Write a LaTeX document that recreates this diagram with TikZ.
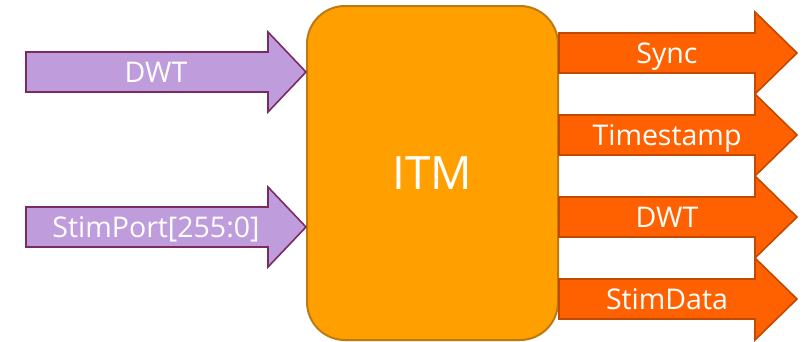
\documentclass[tikz,border=0pt]{standalone}
\usepackage{fontspec}
\setmainfont{Open Sans}
\usetikzlibrary{calc}
\definecolor{itmfill}{HTML}{FFA000}
\definecolor{itmline}{HTML}{BD7A12}
\definecolor{infill}{HTML}{BF9CDB}
\definecolor{inline}{HTML}{7A2B62}
\definecolor{outfill}{HTML}{FF6100}
\definecolor{outline}{HTML}{C24A00}
\tikzset{
  blockbox/.style={draw=itmline, fill=itmfill, line width=2pt, rounded corners=38pt,
    minimum width=251pt, minimum height=334pt, text=white, font=\fontsize{46}{52}\selectfont},
  inarrow/.style={draw=inline, fill=infill, line width=1.6pt, line join=miter},
  outarrow/.style={draw=outline, fill=outfill, line width=1.6pt, line join=miter},
  arrowlabel/.style={text=white, font=\fontsize{28.5}{32}\selectfont, inner sep=0pt, anchor=base}
}
\begin{document}
\begin{tikzpicture}[x=1pt,y=-1pt]
\useasboundingbox (0,0) rectangle (810,341);
% central block
\node[blockbox] (itm) at (432.5,173) {ITM};
% incoming block arrows (tip touches the block's left side)
\foreach \cy/\nm/\txt in {72/dwtin/DWT, 227/stimin/StimPort[255:0]}{
  \coordinate (\nm) at (itm.west |- 0,\cy);
  \path[inarrow] (26,\cy-20) -- (268,\cy-20) -- (268,\cy-40) -- (\nm)
    -- (268,\cy+40) -- (268,\cy+20) -- (26,\cy+20) -- cycle;
  \node[arrowlabel] (\nm-label) at (156,\cy+10) {\txt};
}
% outgoing block arrows (start at the block's right side)
\foreach \cy/\nm/\txt in {53/syncout/Sync, 135/tsout/Timestamp, 217/dwtout/DWT, 299/stimout/StimData}{
  \coordinate (\nm) at (itm.east |- 0,\cy);
  \path[outarrow] ($(\nm)+(0,-20)$) -- (755,\cy-20) -- (755,\cy-41) -- (797,\cy)
    -- (755,\cy+41) -- (755,\cy+20) -- ($(\nm)+(0,20)$) -- cycle;
  \node[arrowlabel] (\nm-label) at (667,\cy+10) {\txt};
}
\end{tikzpicture}
\end{document}
